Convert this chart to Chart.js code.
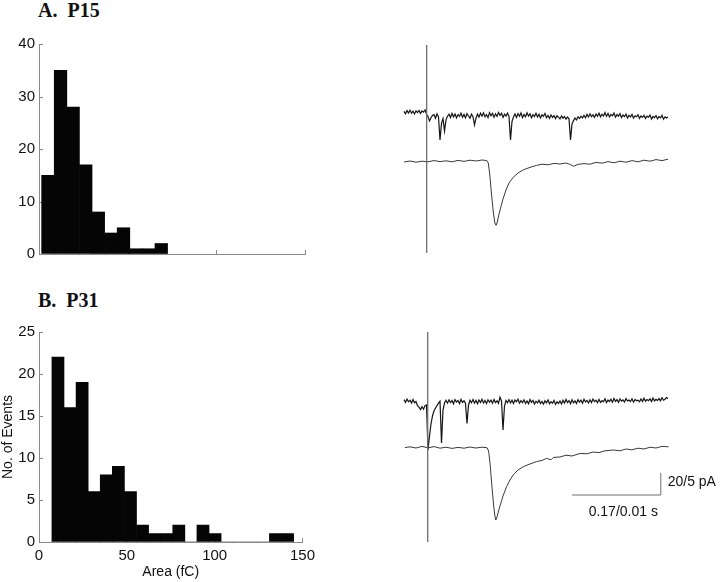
<!DOCTYPE html>
<html>
<head>
<meta charset="utf-8">
<script src="https://cdn.jsdelivr.net/npm/chart.js@4.4.1/dist/chart.umd.min.js"></script>
<style>
  body { margin: 0; background: #fff; width: 720px; height: 582px; position: relative; overflow: hidden; }
  canvas { position: absolute; }
  .panel-title { position: absolute; font: bold 20px "Liberation Serif", "Times New Roman", serif; line-height: 20px; white-space: pre; color: #111; }
</style>
</head>
<body>
<div class="panel-title" style="left:38px;top:0px">A.  P15</div>
<div class="panel-title" style="left:38px;top:290px">B.  P31</div>
<canvas id="histA" width="320" height="280" style="left:0;top:0"></canvas>
<canvas id="histB" width="320" height="302" style="left:0;top:280px"></canvas>
<canvas id="traceA" width="300" height="230" style="left:380px;top:35px"></canvas>
<canvas id="traceB" width="340" height="230" style="left:380px;top:322px"></canvas>
<script>
// --- histogram data (bin centres in fC, counts) ---
const binCentersA = [5.05, 12.15, 19.25, 26.35, 33.45, 40.55, 47.65, 54.75, 61.85, 68.95];
const countsA = [15, 35, 28, 17, 8, 4, 5, 1, 1, 2];

const binCentersB = [10.79, 17.67, 24.55, 31.43, 38.31, 45.19, 52.07, 58.95, 65.83, 72.71,
  79.59, 86.47, 93.35, 100.23, 107.11, 113.99, 120.87, 127.75, 134.63, 141.51];
const countsB = [22, 16, 19, 6, 8, 9, 6, 2, 1, 1, 2, 0, 2, 1, 0, 0, 0, 0, 1, 1];

const xTicksArea = [0, 50, 100, 150];

// --- example traces (time in arbitrary ms, current in arbitrary pA) ---
const traceStart = 8;
const traceStep = 0.5;

const upperA = [
  1.8, 0.6, 2.2, 1.0, 2.4, 0.9, 1.9, 0.5, 2.1, 1.2,
  2.3, 0.8, 2.0, 1.4, 2.6, 0.4, -0.8, -3.0, -1.4, -0.2,
  0.2, -1.6, 0.6, -1.0, -12.5, -4.2, -1.8, -8.0, -2.4, -0.6,
  0.4, -1.3, 0.8, -0.9, 0.5, -1.5, 0.2, -0.7, 1.0, -1.1,
  0.3, -1.4, 0.7, -0.5, -1.6, 0.4, -0.8, -5.0, -1.6, 0.5,
  -1.0, 0.9, -0.6, 1.1, -0.9, 0.2, -1.3, 1.2, -0.4, 0.8,
  -1.1, 0.6, -0.7, 1.3, -0.2, 0.9, -1.2, 0.4, -0.6, 1.0,
  -0.8, -12.5, -3.2, -1.0, 0.5, -1.2, 0.7, -0.6, 1.0, -1.3,
  0.3, -0.9, 1.1, -0.5, 0.6, -1.4, 0.2, -0.8, 0.9, -1.0,
  0.4, -1.5, 0.1, -0.6, 0.8, -1.3, -0.2, -1.7, 0.0, -1.2,
  -0.3, -1.8, -0.4, -1.1, -2.0, -0.5, -1.6, -0.8, -2.1, -1.0,
  -1.9, -12.5, -4.5, -2.8, -1.5, -2.4, -0.9, -1.8, -0.6, -1.5,
  -0.2, -1.4, 0.3, -1.0, 0.6, -0.8, 0.1, -1.2, 0.5, -0.6,
  0.9, -0.9, 0.4, -0.5, 1.2, -0.7, 0.8, -1.0, 0.3, -0.4,
  1.0, -1.1, 0.2, -0.6, 0.7, -1.3, 0.0, -0.8, 0.4, -1.5,
  -0.1, -1.0, 0.3, -1.6, -0.4, -0.9, 0.1, -1.7, -0.5, -1.2,
  -0.2, -1.8, -0.6, -1.1, 0.0, -2.0, -0.7, -1.3, -0.3, -1.9,
  -0.8, -1.4, -0.2, -2.1, -0.9, -1.5, -1.0
];

const lowerA = [
  [8, -23.5], [10, -23], [12, -23.6], [14, -23.1], [16, -23.4], [18, -22.8], [20, -23.3],
  [22, -22.9], [24, -23.4], [26, -22.7], [28, -23.2], [30, -22.6], [32, -23], [34, -22.5],
  [35.6, -22.8], [36.1, -24], [36.6, -30], [37.2, -40], [37.8, -49], [38.3, -54], [38.7, -55.2],
  [39.1, -53.5], [39.6, -50], [40.2, -46.5], [41, -42], [42, -37.5], [43, -34], [44.4, -31.2],
  [46, -29], [47.8, -27.4], [50, -26.2], [52.2, -25.2], [54, -24.6], [56, -24.9], [58, -24.2],
  [60, -24.5], [62, -24], [63.5, -24.8], [64.5, -25.6], [66, -24.7], [68, -24.3], [70, -24.6],
  [72, -23.7], [74, -24.1], [76, -23.3], [78, -23.9], [80, -23.1], [82, -23.6], [84, -22.8],
  [86, -23.4], [88, -22.6], [90, -23.1], [92, -22.3], [94, -22.8], [96, -22.1]
];

const upperB = [
  1.2, -0.2, 1.5, 0.1, 0.9, -0.5, 1.3, -0.4, 0.2, -1.8,
  -2.6, -3.8, -2.4, -3.6, -1.9, -1.5, -24.0, -17.0, -11.0, -7.0,
  -4.5, -3.0, -1.8, -0.6, 0.4, -20.5, -4.0, -0.5, 0.9, -0.6,
  1.1, -0.3, 0.8, -0.9, 1.2, 0.0, 0.7, -0.8, 1.3, -0.2,
  0.6, -0.7, -10.7, -1.5, 0.9, -0.4, 1.2, -0.6, 0.8, -0.9,
  1.0, -0.2, 1.4, -0.5, 0.7, -0.8, 1.1, -0.1, 0.9, -0.6,
  1.3, -0.3, 0.6, -0.7, 2.4, 0.5, -14.0, -2.0, 0.8, -0.4,
  1.2, -0.5, 0.9, -0.8, 1.0, 0.1, 1.4, -0.6, 0.7, -0.3,
  1.1, -0.7, 0.5, -0.9, 1.2, -0.2, 0.8, -1.0, 0.4, -0.5,
  0.9, -0.8, 0.3, -1.1, 0.6, -0.4, 1.0, -0.9, 0.2, -0.6,
  0.8, -1.2, 0.1, -0.7, 0.5, -1.0, 0.9, -0.5, 1.3, -0.3,
  0.7, -0.9, 1.1, -0.4, 0.6, -0.8, 1.2, -0.1, 0.9, -0.6,
  1.4, 0.0, 0.8, -0.5, 1.1, -0.3, 1.5, 0.2, 0.9, -0.4,
  1.3, -0.2, 0.7, 0.1, 1.6, -0.3, 1.0, 0.2, 1.4, -0.1,
  1.8, 0.3, 1.2, -0.2, 1.5, 0.4, 1.1, 0.0, 1.7, 0.5,
  1.0, 0.2, 1.6, -0.1, 1.3, 0.6, 0.9, 0.1, 1.5, 0.3,
  1.9, 0.4, 1.2, 0.7, 1.6, 0.2, 2.0, 0.5, 1.3, 0.8,
  1.7, 0.6, 2.1, 0.9, 1.4, 2.2, 1.6
];

const lowerB = [
  [8.3, -22.8], [10, -22.4], [12, -23], [14, -22.2], [16, -22.9], [18, -22.3], [20, -23.1],
  [22, -22.6], [24, -23.2], [26, -22.7], [28, -23.1], [30, -22.5], [32, -23], [34, -22.6],
  [35.7, -22.9], [36.2, -24.5], [36.7, -31], [37.3, -42], [37.9, -52], [38.3, -57], [38.6, -59],
  [39, -57.5], [39.5, -54.5], [40, -52], [41, -47], [42.2, -42.3], [43.3, -39], [44.4, -36.5],
  [46, -34], [47.8, -32.3], [50, -31], [52.2, -29.8], [54, -29.2], [55.5, -28.2], [57, -28.9],
  [57.8, -27.7], [60, -27.5], [62, -26.6], [64, -27], [66.7, -25.7], [69, -25.9], [71, -25],
  [73, -25.3], [75, -24.4], [77.8, -24], [80, -24.4], [82, -23.5], [84, -23.9], [86, -23.1],
  [88, -23.5], [90, -22.6], [92, -23], [94, -22.2], [96.2, -22.4]
];

const stimulusA = [[15.55, 35], [15.55, -69]];
const stimulusB = [[15.9, 35], [15.9, -70]];
const scaleBarB = [[64, -46.5], [93.6, -46.5], [93.6, -35.5]];
const scaleBarLabels = [
  { text: "20/5 pA", t: 95.9, v: -39.9, align: "left" },
  { text: "0.17/0.01 s", t: 81.1, v: -54.9, align: "center" }
];

const AXIS_COLOR = "#8a8a8a";
const TEXT_COLOR = "#111";

Chart.defaults.font.family = '"Liberation Sans", Arial, sans-serif';
Chart.defaults.font.size = 15;
Chart.defaults.color = TEXT_COLOR;

// tick marks pointing into the plot, like the original figure
const inwardTicks = {
  id: "inwardTicks",
  beforeDatasetsDraw(chart) {
    const { ctx } = chart;
    const x = chart.scales.x;
    const y = chart.scales.y;
    ctx.save();
    ctx.strokeStyle = AXIS_COLOR;
    ctx.lineWidth = 1;
    ctx.beginPath();
    x.ticks.forEach((t) => {
      const px = Math.round(x.getPixelForValue(t.value)) + 0.5;
      ctx.moveTo(px, x.top);
      ctx.lineTo(px, x.top - 4);
    });
    y.ticks.forEach((t) => {
      const py = Math.round(y.getPixelForValue(t.value)) + 0.5;
      ctx.moveTo(y.right, py);
      ctx.lineTo(y.right + 4, py);
    });
    ctx.stroke();
    ctx.restore();
  },
};

function histChart(id, centers, counts, yMax, yStep, withLabels, padTop, xHeight) {
  const ctx = document.getElementById(id).getContext("2d");
  return new Chart(ctx, {
    type: "bar",
    data: {
      datasets: [
        {
          data: centers.map((c, i) => ({ x: c, y: counts[i] })),
          backgroundColor: "#050505",
          borderWidth: 0,
          barPercentage: 1,
          categoryPercentage: 1,
        },
      ],
    },
    options: {
      responsive: false,
      animation: false,
      layout: { padding: { top: padTop, right: 15, bottom: 0, left: 0 } },
      plugins: { legend: { display: false }, tooltip: { enabled: false } },
      scales: {
        x: {
          type: "linear",
          min: 0,
          max: 150,
          offset: false,
          afterBuildTicks: (s) => { s.ticks = xTicksArea.map((v) => ({ value: v })); },
          ticks: { display: withLabels, padding: 5, maxRotation: 0, autoSkip: false },
          grid: { drawOnChartArea: false, drawTicks: false },
          border: { color: AXIS_COLOR },
          title: { display: withLabels, text: "Area (fC)", font: { size: 14 }, padding: { top: 0, bottom: 1 } },
          afterFit: (s) => { s.height = xHeight; },
        },
        y: {
          min: 0,
          max: yMax,
          ticks: { stepSize: yStep, padding: 4 },
          grid: { drawOnChartArea: false, drawTicks: false },
          border: { color: AXIS_COLOR },
          title: { display: withLabels, text: "No. of Events", font: { size: 14 }, padding: 0 },
          afterFit: (s) => { s.width = 39; },
        },
      },
    },
    plugins: [inwardTicks],
  });
}

histChart("histA", binCentersA, countsA, 40, 10, false, 44, 26);
histChart("histB", binCentersB, countsB, 25, 5, true, 52, 40);

const scaleBarText = {
  id: "scaleBarText",
  afterDatasetsDraw(chart, args, opts) {
    if (!opts.labels) return;
    const { ctx } = chart;
    const { x, y } = chart.scales;
    ctx.save();
    ctx.font = '14px "Liberation Sans", Arial, sans-serif';
    ctx.fillStyle = TEXT_COLOR;
    ctx.textBaseline = "middle";
    opts.labels.forEach((l) => {
      ctx.textAlign = l.align;
      ctx.fillText(l.text, x.getPixelForValue(l.t), y.getPixelForValue(l.v));
    });
    ctx.restore();
  },
};

const toPoints = (pairs) => pairs.map((p) => ({ x: p[0], y: p[1] }));
const sampled = (vals) => vals.map((v, i) => ({ x: traceStart + i * traceStep, y: v }));

function traceChart(id, xMax, upper, lower, stim, bar, labels) {
  const datasets = [
    { data: toPoints(stim), borderColor: "#6e6e6e", borderWidth: 1.3 },
    { data: toPoints(lower), borderColor: "#3a3a3a", borderWidth: 1 },
    { data: sampled(upper), borderColor: "#151515", borderWidth: 1.2 },
  ];
  if (bar) datasets.push({ data: toPoints(bar), borderColor: "#6e6e6e", borderWidth: 1 });
  return new Chart(document.getElementById(id).getContext("2d"), {
    type: "line",
    data: { datasets },
    options: {
      responsive: false,
      animation: false,
      elements: { point: { radius: 0 }, line: { tension: 0, fill: false } },
      layout: { padding: 0 },
      plugins: {
        legend: { display: false },
        tooltip: { enabled: false },
        scaleBarText: { labels },
      },
      scales: {
        x: { type: "linear", min: 0, max: xMax, display: false },
        y: { min: -75, max: 40, display: false },
      },
    },
    plugins: [scaleBarText],
  });
}

traceChart("traceA", 100, upperA, lowerA, stimulusA, null, null);
traceChart("traceB", 340 / 3, upperB, lowerB, stimulusB, scaleBarB, scaleBarLabels);
</script>
</body>
</html>
